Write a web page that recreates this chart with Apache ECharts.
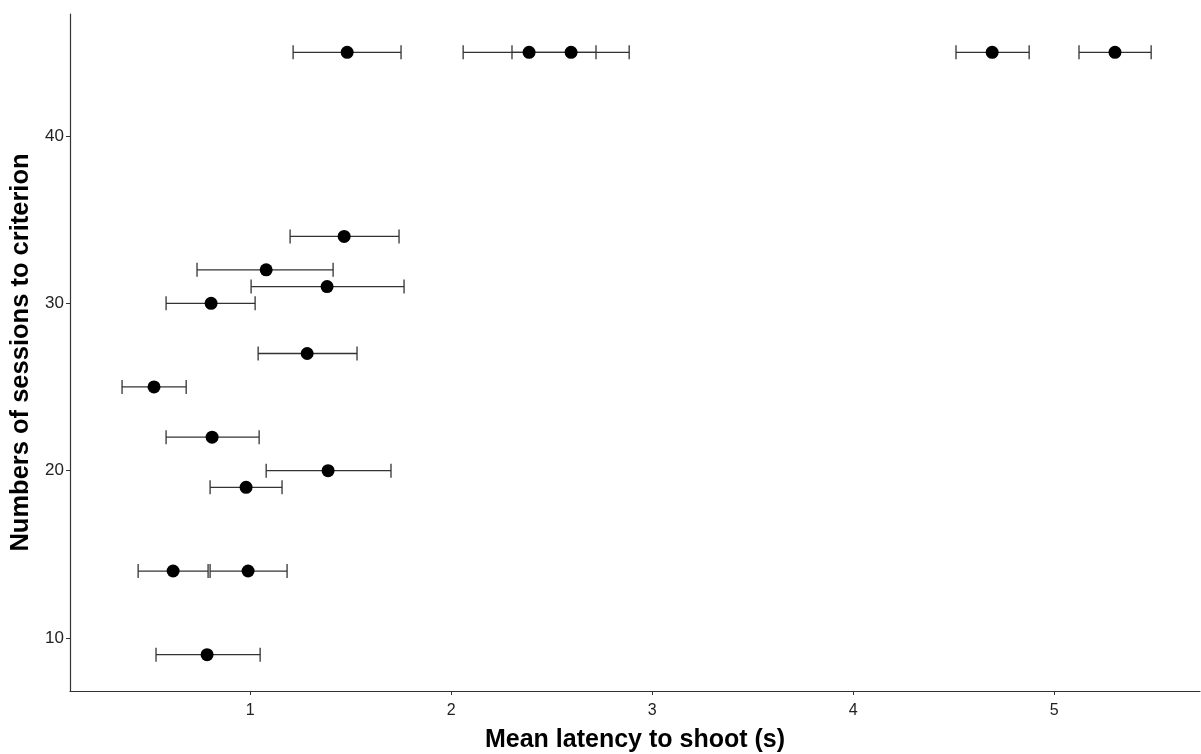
<!DOCTYPE html>
<html><head><meta charset="utf-8">
<script src="https://cdn.jsdelivr.net/npm/echarts@6/dist/echarts.min.js"></script>
<style>html,body{margin:0;padding:0;background:#fff}#c{width:1201px;height:754px}</style>
</head><body><div id="c"></div>
<script>
// y = sessions to criterion, x = mean latency, lo/hi = error bar bounds
const sessions = [45, 45, 45, 45, 45, 34, 32, 31, 30, 27, 25, 22, 20, 19, 14, 14, 9];
const latency  = [1.483, 2.388, 2.597, 4.692, 5.303, 1.468, 1.080, 1.383, 0.806, 1.284, 0.522, 0.811, 1.388, 0.980, 0.617, 0.990, 0.786];
const lower    = [1.214, 2.060, 2.303, 4.512, 5.124, 1.199, 0.736, 1.005, 0.582, 1.040, 0.363, 0.582, 1.080, 0.801, 0.443, 0.801, 0.532];
const upper    = [1.751, 2.721, 2.886, 4.876, 5.483, 1.741, 1.413, 1.766, 1.025, 1.532, 0.682, 1.045, 1.701, 1.159, 0.791, 1.184, 1.050];
const xTicks = [1, 2, 3, 4, 5];
const yTicks = [10, 20, 30, 40];

const pts = sessions.map((s, i) => [latency[i], s]);
const bars = sessions.map((s, i) => [lower[i], upper[i], s]);

const chart = echarts.init(document.getElementById('c'));
const font = 'Arial, "Liberation Sans", sans-serif';
chart.setOption({
  animation: false,
  grid: {left: 70, right: 1, top: 14, bottom: 63, containLabel: false, outerBoundsMode: 'none'},
  xAxis: {
    type: 'value', min: 0.104, max: 5.726,
    name: 'Mean latency to shoot (s)', nameLocation: 'middle', nameGap: 37,
    nameTextStyle: {fontFamily: font, fontWeight: 'bold', fontSize: 25, color: '#000'},
    axisLine: {onZero: false, lineStyle: {color: '#333', width: 1.2}},
    axisTick: {show: true, length: 4, customValues: xTicks, lineStyle: {color: '#333'}},
    axisLabel: {customValues: xTicks, fontFamily: font, fontSize: 16, color: '#222', margin: 12},
    splitLine: {show: false}
  },
  yAxis: {
    type: 'value', min: 6.83, max: 47.29,
    name: 'Numbers of sessions to criterion', nameLocation: 'middle', nameGap: 32,
    nameRotate: 90,
    nameTextStyle: {fontFamily: font, fontWeight: 'bold', fontSize: 25.5, color: '#000'},
    axisLine: {show: true, onZero: false, lineStyle: {color: '#333', width: 1.2}},
    axisTick: {show: true, length: 4, customValues: yTicks, lineStyle: {color: '#333'}},
    axisLabel: {customValues: yTicks, fontFamily: font, fontSize: 17, color: '#222', margin: 6},
    splitLine: {show: false}
  },
  series: [
    {
      type: 'custom',
      data: bars,
      z: 2,
      renderItem: function (params, api) {
        const a = api.coord([api.value(0), api.value(2)]);
        const b = api.coord([api.value(1), api.value(2)]);
        const h = 7;
        const st = {stroke: '#333', lineWidth: 1.3};
        return {type: 'group', children: [
          {type: 'line', shape: {x1: a[0], y1: a[1], x2: b[0], y2: b[1]}, style: st},
          {type: 'line', shape: {x1: a[0], y1: a[1] - h, x2: a[0], y2: a[1] + h}, style: st},
          {type: 'line', shape: {x1: b[0], y1: b[1] - h, x2: b[0], y2: b[1] + h}, style: st}
        ]};
      }
    },
    {
      type: 'scatter', data: pts, symbol: 'circle', symbolSize: 13, z: 3,
      itemStyle: {color: '#000', opacity: 1}
    }
  ]
});
</script></body></html>
